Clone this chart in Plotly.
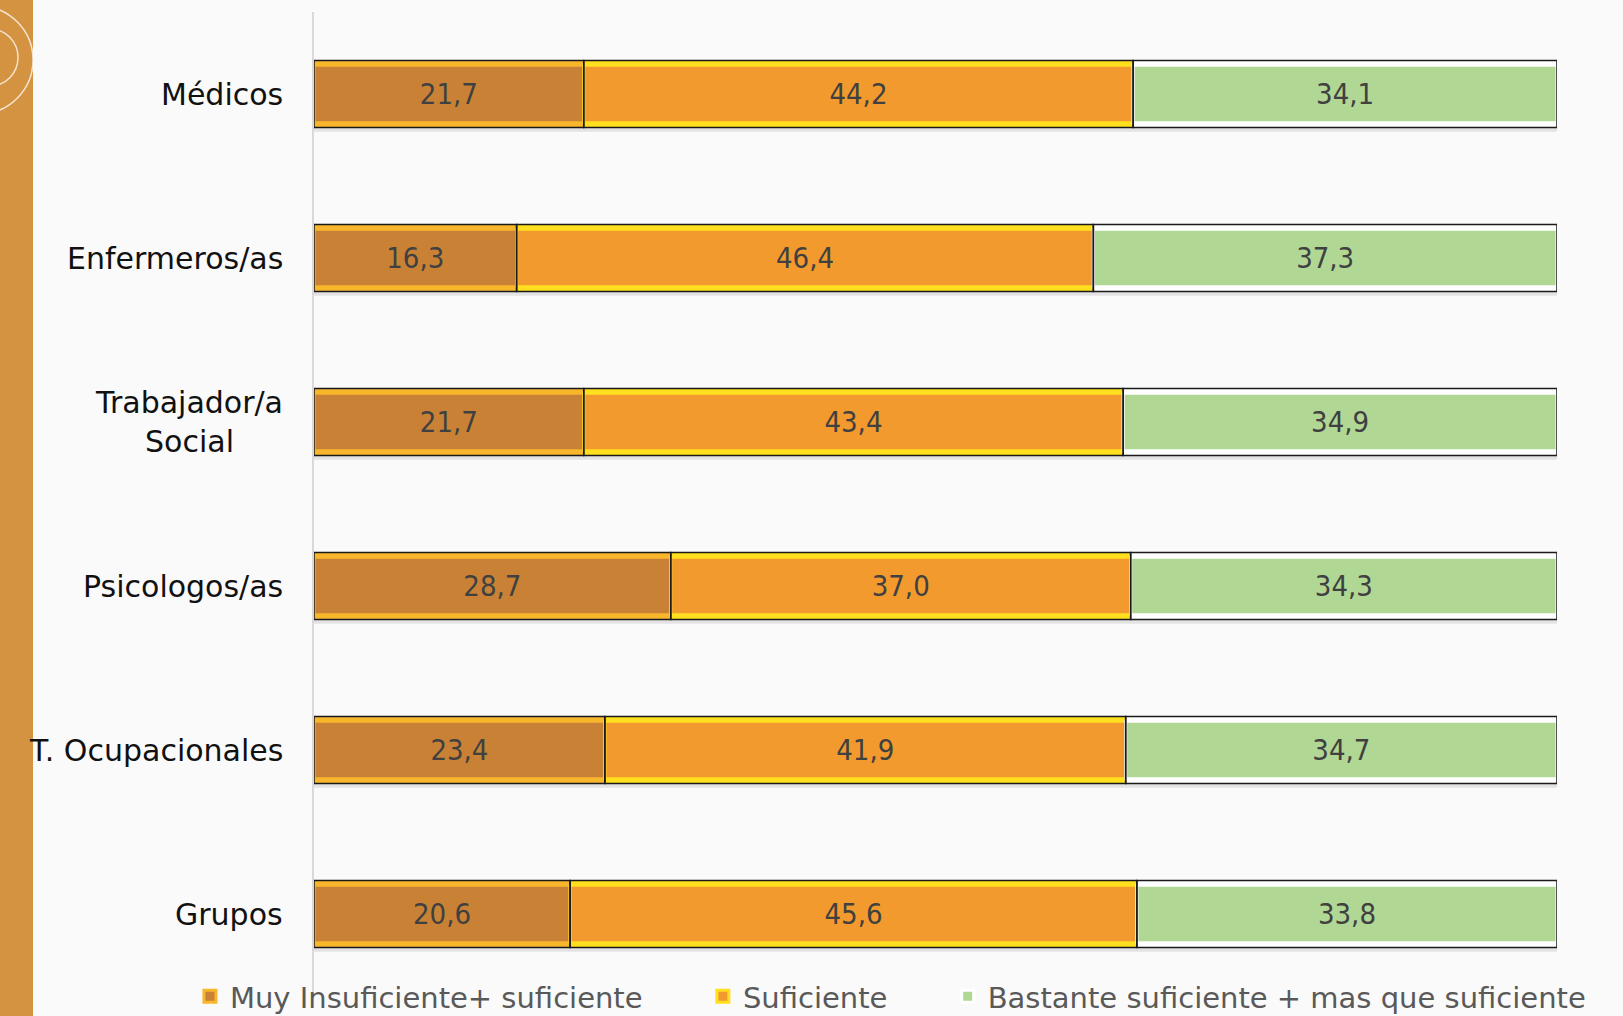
import plotly.graph_objects as go
import numpy as np

categories = ["Médicos", "Enfermeros/as", "Trabajador/a<br>Social", "Psicologos/as", "T. Ocupacionales", "Grupos"]
muy_insuficiente = [21.7, 16.3, 21.7, 28.7, 23.4, 20.6]
suficiente = [44.2, 46.4, 43.4, 37.0, 41.9, 45.6]
bastante = [34.1, 37.3, 34.9, 34.3, 34.7, 33.8]
series_names = ["Muy Insuficiente+ suficiente", "Suficiente", "Bastante suficiente + mas que suficiente"]

series = [muy_insuficiente, suficiente, bastante]
main_colors = ["#C98235", "#F29A2E", "#B1D795"]
bevel_colors = ["#F7B62C", "#FFDF1E", "#FFFFFF"]

FONT = "DejaVu Sans"
W_OUT = 0.41
W_IN = 0.35

fig = go.Figure()

totals = np.sum(np.array(series), axis=0)
# soft shadow
fig.add_trace(go.Bar(y=categories, x=totals, base=0, orientation="h", width=W_OUT,
                     offset=-W_OUT / 2 + 0.025, marker=dict(color="rgba(0,0,0,0.09)", line=dict(width=0)),
                     showlegend=False, hoverinfo="skip"))

bases = []
cum = np.zeros(len(categories))
for s in series:
    bases.append(cum.copy())
    cum = cum + np.array(s)

# outer bevel band
for s, b, bc in zip(series, bases, bevel_colors):
    fig.add_trace(go.Bar(y=categories, x=s, base=b, orientation="h", width=W_OUT,
                         marker=dict(color=bc, line=dict(width=0)),
                         showlegend=False, hoverinfo="skip"))

# inner fill with labels
pad = "\u00a0" * 6
for i, (s, b, mc, bc, name) in enumerate(zip(series, bases, main_colors, bevel_colors, series_names)):
    fig.add_trace(go.Bar(y=categories, x=s, base=b, orientation="h", width=W_IN,
                         name=name + (pad if i < 2 else ""),
                         marker=dict(color=mc, line=dict(color=bc, width=3)),
                         texttemplate="%{x:.1f}", textposition="inside",
                         insidetextanchor="middle", textangle=0,
                         textfont=dict(family="DejaVu Sans Condensed, " + FONT, size=29, color="#404040"),
                         showlegend=True))

# black outline
for s, b in zip(series, bases):
    fig.add_trace(go.Bar(y=categories, x=s, base=b, orientation="h", width=W_OUT,
                         marker=dict(color="rgba(0,0,0,0)", line=dict(color="#1a1a1a", width=1.5)),
                         showlegend=False, hoverinfo="skip"))

annotations = []
for c in categories:
    annotations.append(dict(x=0, y=c, xref="paper", yref="y", text=c, showarrow=False,
                            xanchor="right", yanchor="middle", xshift=-29, align="center",
                            font=dict(family=FONT, size=30, color="#111111")))

shapes = [
    dict(type="rect", xref="paper", yref="paper", xsizemode="pixel", ysizemode="pixel",
         xanchor=0, yanchor=0, x0=-314, x1=-281, y0=-30, y1=1040,
         fillcolor="#D39340", line=dict(width=0), layer="below"),
    dict(type="circle", xref="paper", yref="paper", xsizemode="pixel", ysizemode="pixel",
         xanchor=0, yanchor=1, x0=-389, x1=-281, y0=-102, y1=6,
         line=dict(color="rgba(255,255,255,0.75)", width=1.5), layer="below"),
    dict(type="circle", xref="paper", yref="paper", xsizemode="pixel", ysizemode="pixel",
         xanchor=0, yanchor=1, x0=-352, x1=-296, y0=-74, y1=-17,
         line=dict(color="rgba(255,255,255,0.75)", width=1.5), layer="below"),
]

fig.update_layout(
    width=1623, height=1016,
    margin=dict(l=314, r=66, t=12, b=20, autoexpand=False),
    paper_bgcolor="#FAFAFA", plot_bgcolor="#FAFAFA",
    barmode="overlay",
    separators=",.",
    showlegend=True,
    legend=dict(orientation="h", x=-0.0998, xanchor="left", y=-0.0005, yanchor="middle",
                font=dict(family=FONT, size=29, color="#595959"), bgcolor="rgba(0,0,0,0)",
                traceorder="normal"),
    xaxis=dict(range=[0, 100], visible=False, showgrid=False, zeroline=False),
    yaxis=dict(type="category", categoryorder="array", categoryarray=categories,
               autorange="reversed", showticklabels=False, ticks="", showgrid=False,
               zeroline=False, showline=True, linecolor="#D9D9D9", linewidth=2),
    annotations=annotations,
    shapes=shapes,
)

fig.write_html("out.html")
